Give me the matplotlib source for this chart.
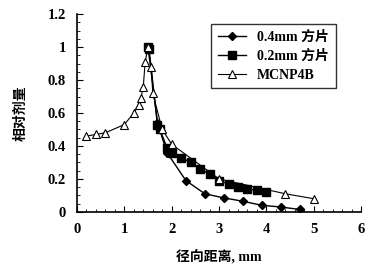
import matplotlib.pyplot as plt
from matplotlib.ticker import MultipleLocator

plt.rcParams['font.family'] = ['Liberation Serif', 'Noto Sans CJK SC']

# 0.4mm 方片
x_04 = [1.5, 1.7, 1.9, 2.3, 2.7, 3.1, 3.5, 3.9, 4.3, 4.7]
y_04 = [1.0, 0.54, 0.36, 0.19, 0.11, 0.085, 0.065, 0.04, 0.03, 0.015]

# 0.2mm 方片
x_02 = [1.5, 1.52, 1.7, 1.75, 1.9, 2.0, 2.2, 2.4, 2.6, 2.8, 3.0, 3.2, 3.4, 3.6, 3.8, 4.0]
y_02 = [1.0, 0.99, 0.53, 0.5, 0.39, 0.36, 0.33, 0.3, 0.26, 0.23, 0.19, 0.17, 0.15, 0.14, 0.13, 0.12]

# MCNP4B
x_mc = [0.2, 0.4, 0.6, 1.0, 1.2, 1.3, 1.35, 1.4, 1.44, 1.5, 1.57, 1.6, 1.8, 2.0, 3.0, 4.4, 5.0]
y_mc = [0.46, 0.47, 0.48, 0.53, 0.6, 0.65, 0.69, 0.76, 0.91, 1.0, 0.88, 0.72, 0.5, 0.41, 0.2, 0.11, 0.08]

fig = plt.figure(figsize=(3.81, 2.71), dpi=100)
ax = fig.add_axes([0.202, 0.218, 0.746, 0.73])

ax.plot(x_04, y_04, color='black', lw=1, marker='D', ms=4, mfc='black', label='0.4mm 方片')
ax.plot(x_02, y_02, color='black', lw=1, marker='s', ms=5.5, mfc='black', label='0.2mm 方片')
ax.plot(x_mc, y_mc, color='black', lw=0.8, marker='^', ms=6, mfc='white', mew=0.8, label='MCNP4B')

ax.set_xlim(0, 6)
ax.set_ylim(0, 1.2)
ax.xaxis.set_major_locator(MultipleLocator(1))
ax.xaxis.set_minor_locator(MultipleLocator(0.2))
ax.yaxis.set_minor_locator(MultipleLocator(0.05))
ax.set_yticks([0, 0.2, 0.4, 0.6, 0.8, 1.0, 1.2])
ax.set_yticklabels(['0', '0.2', '0.4', '0.6', '0.8', '1', '1.2'])
ax.tick_params(which='both', direction='in', labelsize=10.5)
ax.tick_params(which='major', length=4, pad=8)
ax.tick_params(which='minor', length=2.5)
for lab in ax.get_xticklabels() + ax.get_yticklabels():
    lab.set_fontweight('bold')
ax.spines['top'].set_visible(False)
ax.spines['right'].set_visible(False)
ax.spines['left'].set_linewidth(1.2)
ax.spines['bottom'].set_linewidth(1.2)

ax.set_xlabel('径向距离, mm', fontsize=10, fontweight='bold', labelpad=10)
ax.set_ylabel('相对剂量', fontsize=10, fontweight='bold', labelpad=14)

leg = ax.legend(loc='upper right', bbox_to_anchor=(0.935, 0.985),
                prop={'weight': 'bold', 'size': 10}, frameon=True, fancybox=False,
                edgecolor='black', handlelength=2, borderpad=0.5, labelspacing=0.4)
leg.get_frame().set_linewidth(1)

fig.savefig('out.png', dpi=100)
